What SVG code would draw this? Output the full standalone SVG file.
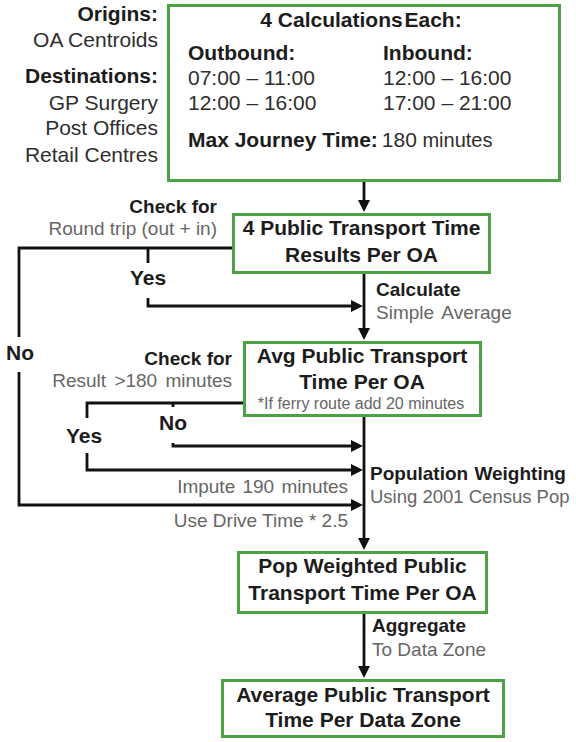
<svg xmlns="http://www.w3.org/2000/svg" width="576" height="742" viewBox="0 0 576 742">
<style>
text{font-family:"Liberation Sans",Arial,sans-serif;}
.b{font-weight:bold;font-size:21px;fill:#1c1c1c;}
.r{font-size:21px;fill:#2e2e2e;}
.lb{font-weight:bold;font-size:19px;fill:#1c1c1c;}
.g{font-size:19px;fill:#666;}
.s{font-size:16px;fill:#666;}
.box{fill:#fff;stroke:#4ca245;stroke-width:3;}
.c{fill:none;stroke:#111;stroke-width:2.8;}
.m{text-anchor:middle;}
.e{text-anchor:end;}
</style>
<defs>
<marker id="ah" viewBox="0 0 12 12" refX="0" refY="6" markerWidth="12" markerHeight="12" markerUnits="userSpaceOnUse" orient="auto">
<path d="M0,0 L12,6 L0,12 z" fill="#111"/>
</marker>
</defs>
<g id="labels-left">
<text class="b e" x="158" y="21">Origins:</text>
<text class="r e" x="158" y="47">OA Centroids</text>
<text class="b e" x="158" y="83">Destinations:</text>
<text class="r e" x="158" y="110">GP Surgery</text>
<text class="r e" x="158" y="135">Post Offices</text>
<text class="r e" x="158" y="162">Retail Centres</text>
</g>
<g id="node-calculations">
<rect class="box" x="168.5" y="5.5" width="391" height="175"/>
<text class="b m" x="361" y="27">4 Calculations<tspan dx="-4"> Each:</tspan></text>
<text class="b" x="188" y="60">Outbound:</text>
<text class="b" x="383" y="60">Inbound:</text>
<text class="r" x="188" y="85">07:00 – 11:00</text>
<text class="r" x="188" y="110">12:00 – 16:00</text>
<text class="r" x="383" y="85">12:00 – 16:00</text>
<text class="r" x="383" y="110">17:00 – 21:00</text>
<text class="b" x="188" y="147">Max Journey Time:<tspan style="font-weight:normal;fill:#2e2e2e" dx="4">180</tspan><tspan style="font-weight:normal;font-size:20px;fill:#2e2e2e"> minutes</tspan></text>
</g>
<g id="node-results">
<rect class="box" x="233.5" y="214.5" width="256" height="58"/>
<text class="b m" x="361.5" y="235">4 Public Transport Time</text>
<text class="b m" x="361.5" y="262">Results Per OA</text>
</g>
<g id="node-avg">
<rect class="box" x="244.5" y="342.5" width="236" height="73"/>
<text class="b m" x="362" y="363">Avg Public Transport</text>
<text class="b m" x="362" y="389">Time Per OA</text>
<text class="s m" x="361" y="409">*If ferry route add 20 minutes</text>
</g>
<g id="node-popweighted">
<rect class="box" x="238.5" y="552.5" width="248" height="60"/>
<text class="b m" x="362.5" y="573">Pop Weighted Public</text>
<text class="b m" x="362.5" y="600">Transport Time Per OA</text>
</g>
<g id="node-datazone">
<rect class="box" x="222.5" y="680.5" width="281" height="56"/>
<text class="b m" x="363" y="702">Average Public Transport</text>
<text class="b m" x="363" y="727">Time Per Data Zone</text>
</g>
<g id="connectors">
<path class="c" d="M364,182 V200" marker-end="url(#ah)"/>
<path class="c" d="M364,274 V328" marker-end="url(#ah)"/>
<path class="c" d="M364,417 V538" marker-end="url(#ah)"/>
<path class="c" d="M364,614 V666" marker-end="url(#ah)"/>
<path class="c" d="M232,248 H19 V337 M19,372 V505 H351" marker-end="url(#ah)"/>
<path class="c" d="M148,248 V263 M148,298 V306 H351" marker-end="url(#ah)"/>
<path class="c" d="M243,403 H87 V418 M87,453 V470 H351" marker-end="url(#ah)"/>
<path class="c" d="M173,403 V407 M173,443 V446 H351" marker-end="url(#ah)"/>
</g>
<g id="connector-labels">
<text class="lb e" x="217" y="213">Check for</text>
<text class="g e" x="217" y="235">Round trip (out + in)</text>
<text class="b m" x="148" y="285">Yes</text>
<text class="b m" x="20" y="360">No</text>
<text class="lb" x="376" y="296">Calculate</text>
<text class="g" x="376" y="319" word-spacing="3">Simple Average</text>
<text class="lb e" x="232" y="365">Check for</text>
<text class="g e" x="232" y="387" word-spacing="3">Result &gt;180 minutes</text>
<text class="b m" x="173" y="430">No</text>
<text class="b m" x="84" y="443">Yes</text>
<text class="lb" x="370" y="480" word-spacing="1">Population Weighting</text>
<text class="g e" x="348" y="493" word-spacing="2">Impute 190 minutes</text>
<text class="g" x="370" y="503" style="font-size:18.5px">Using 2001 Census Pop</text>
<text class="g e" x="348" y="527">Use Drive Time * 2.5</text>
<text class="lb" x="372" y="632">Aggregate</text>
<text class="g" x="372" y="656">To Data Zone</text>
</g>
</svg>
